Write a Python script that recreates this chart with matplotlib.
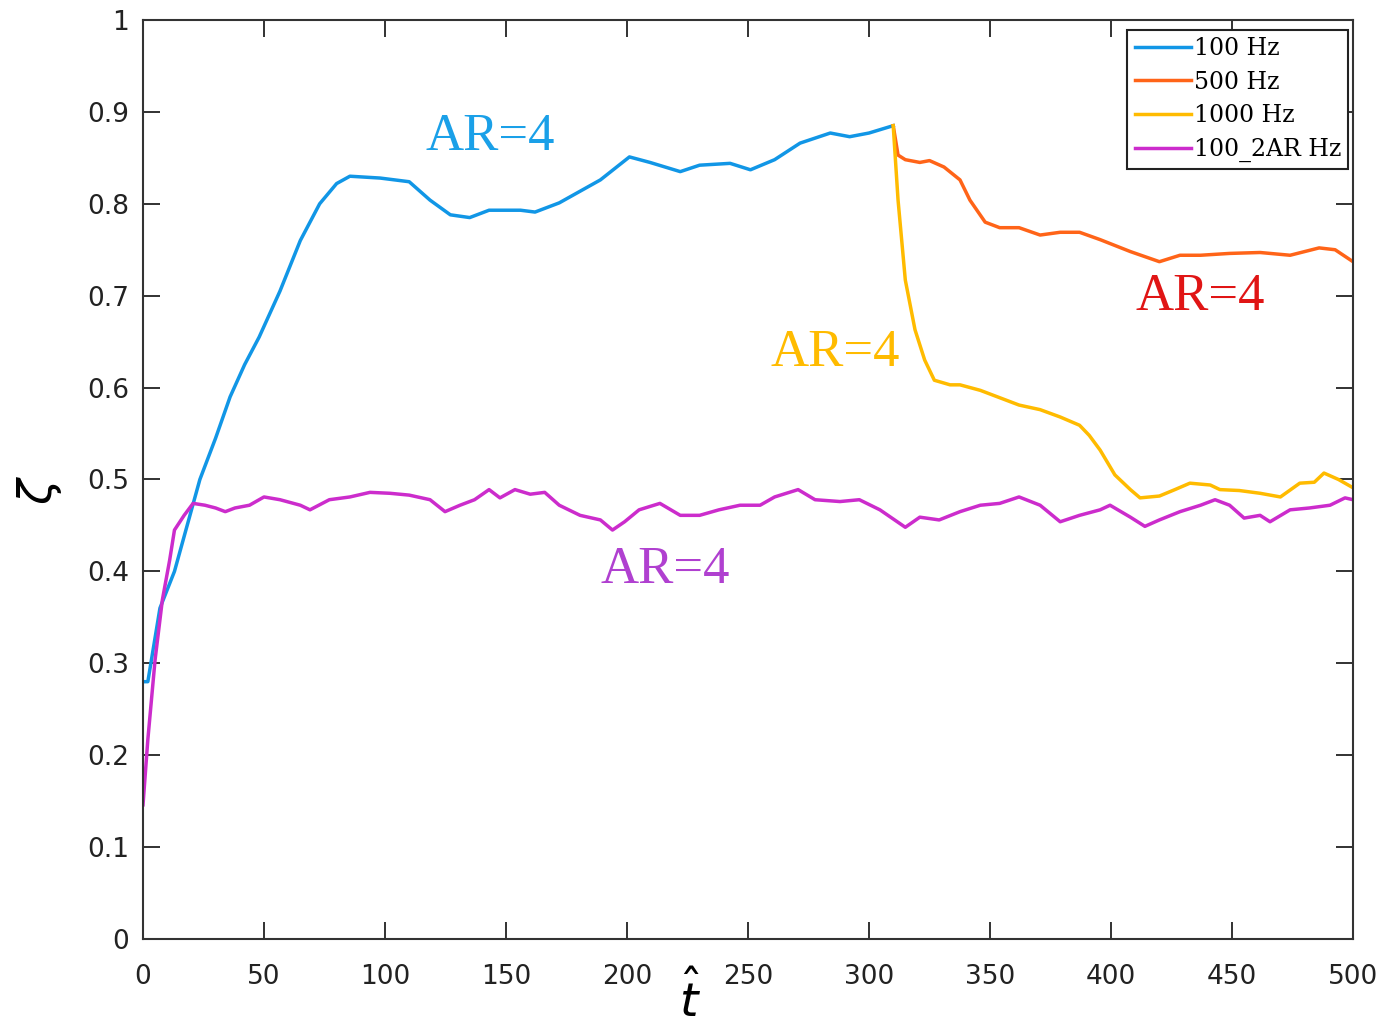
import matplotlib.pyplot as plt

# 100 Hz (blue), runs up to t ~ 310
t_blue = [0, 2, 7, 13, 23.5, 30, 36, 42, 48, 56.6, 65, 73, 80, 85.5, 98, 110, 118.6,
          127, 135, 143, 156, 162, 172, 189, 201, 209.5, 222, 230, 242.6, 251, 261,
          271.5, 284, 292, 300, 310]
z_blue = [0.28, 0.28, 0.36, 0.40, 0.50, 0.545, 0.59, 0.625, 0.655, 0.705, 0.76, 0.80,
          0.822, 0.83, 0.828, 0.824, 0.804, 0.788, 0.785, 0.793, 0.793, 0.791, 0.801,
          0.826, 0.851, 0.845, 0.835, 0.842, 0.844, 0.837, 0.848, 0.866, 0.877,
          0.873, 0.877, 0.885]

# 500 Hz (orange)
t_orange = [310, 312, 315, 321, 325, 331, 337.6, 341.7, 348, 354, 362, 370.7, 379,
            387, 395.5, 408, 420, 428.5, 437, 449, 461.6, 474, 486, 492.6, 500]
z_orange = [0.885, 0.853, 0.848, 0.845, 0.847, 0.840, 0.826, 0.804, 0.780, 0.774,
            0.774, 0.766, 0.769, 0.769, 0.761, 0.748, 0.737, 0.744, 0.744, 0.746,
            0.747, 0.744, 0.752, 0.750, 0.737]

# 1000 Hz (yellow)
t_yellow = [310, 312, 315, 319, 323, 327, 333.5, 337.6, 346, 354, 362, 370.7, 379,
            387, 391, 395.5, 401.6, 408, 412, 420, 426.4, 432.6, 441, 445, 453,
            461.6, 470, 478, 484, 488, 494, 500]
z_yellow = [0.885, 0.804, 0.717, 0.663, 0.630, 0.608, 0.603, 0.603, 0.597, 0.589,
            0.581, 0.576, 0.568, 0.559, 0.548, 0.532, 0.505, 0.489, 0.480, 0.482,
            0.489, 0.496, 0.494, 0.489, 0.488, 0.485, 0.481, 0.496, 0.497, 0.507,
            0.500, 0.491]

# 100_2AR (magenta)
t_mag = [0, 2, 5, 8, 11, 13, 17, 20.7, 25.6, 30, 34, 38, 44, 50, 56.6, 65, 69, 77,
         85.5, 93.8, 102, 110, 118.6, 124.8, 131, 137, 143, 147.5, 153.7, 160, 166,
         172, 180.6, 189, 194, 199, 205, 213.6, 222, 230, 238, 246.7, 255, 261,
         270.7, 277.7, 288, 296, 304.5, 315, 321, 329, 337.6, 346, 354, 362, 370.7,
         379, 387, 395.5, 399.6, 408, 414, 420, 428.5, 437, 443, 449, 455, 461.6,
         465.7, 474, 482, 490.5, 496.7, 500]
z_mag = [0.146, 0.217, 0.304, 0.369, 0.412, 0.445, 0.461, 0.474, 0.472, 0.469,
         0.465, 0.469, 0.472, 0.481, 0.478, 0.472, 0.467, 0.478, 0.481, 0.486,
         0.485, 0.483, 0.478, 0.465, 0.472, 0.478, 0.489, 0.480, 0.489, 0.484,
         0.486, 0.472, 0.461, 0.456, 0.445, 0.454, 0.467, 0.474, 0.461, 0.461,
         0.467, 0.472, 0.472, 0.481, 0.489, 0.478, 0.476, 0.478, 0.467, 0.448,
         0.459, 0.456, 0.465, 0.472, 0.474, 0.481, 0.472, 0.454, 0.461, 0.467,
         0.472, 0.459, 0.449, 0.456, 0.465, 0.472, 0.478, 0.472, 0.458, 0.461,
         0.454, 0.467, 0.469, 0.472, 0.480, 0.478]

xticks = [0, 50, 100, 150, 200, 250, 300, 350, 400, 450, 500]
yticks = [0, 0.1, 0.2, 0.3, 0.4, 0.5, 0.6, 0.7, 0.8, 0.9, 1]
ytick_labels = ['0', '0.1', '0.2', '0.3', '0.4', '0.5', '0.6', '0.7', '0.8', '0.9', '1']

fig = plt.figure(figsize=(13.87, 10.25), dpi=100)
ax = fig.add_axes([0.1031, 0.0839, 0.8724, 0.8966])

ax.plot(t_blue, z_blue, color='#1196e6', lw=2.5, label='100 Hz')
ax.plot(t_orange, z_orange, color='#ff6418', lw=2.5, label='500 Hz')
ax.plot(t_yellow, z_yellow, color='#ffbb00', lw=2.5, label='1000 Hz')
ax.plot(t_mag, z_mag, color='#cc2ccc', lw=2.5, label='100_2AR Hz')

ax.set_xlim(0, 500)
ax.set_ylim(0, 1)
ax.set_xticks(xticks)
ax.set_yticks(yticks)
ax.set_yticklabels(ytick_labels)
ax.tick_params(direction='in', length=12, width=1.3, labelsize=19, top=True, right=True,
               colors='#222222', pad=10)
ax.tick_params(axis='x', pad=18)
for s in ax.spines.values():
    s.set_linewidth(1.5)
    s.set_color('#333333')

# axis labels sit where the reference puts them (t-hat is off-centre)
fig.text(690 / 1387, 1 - 1000 / 1025, r'$\hat{t}$', fontsize=34, ha='center', va='center')
fig.text(40 / 1387, 1 - 490 / 1025, r'$\zeta$', fontsize=34, ha='center', va='center',
         rotation=90)

serif = 'Liberation Serif'
ax.text(143.6, 0.873, 'AR=4', color='#1aa0e8', fontsize=38, family=serif, ha='center', va='center')
ax.text(436.8, 0.699, 'AR=4', color='#e01515', fontsize=38, family=serif, ha='center', va='center')
ax.text(286, 0.638, 'AR=4', color='#ffbb00', fontsize=38, family=serif, ha='center', va='center')
ax.text(215.7, 0.401, 'AR=4', color='#b040d0', fontsize=38, family=serif, ha='center', va='center')

leg = ax.legend(loc='upper right', prop={'family': 'DejaVu Serif', 'size': 17},
                fancybox=False, framealpha=1, edgecolor='#222222', handlelength=2.4,
                handletextpad=0.1, borderpad=0.3, borderaxespad=0, labelspacing=0.45,
                bbox_to_anchor=(1205 / 1210, 1 - 10 / 919))
leg.get_frame().set_linewidth(1.5)

fig.savefig('out.png', dpi=100)
